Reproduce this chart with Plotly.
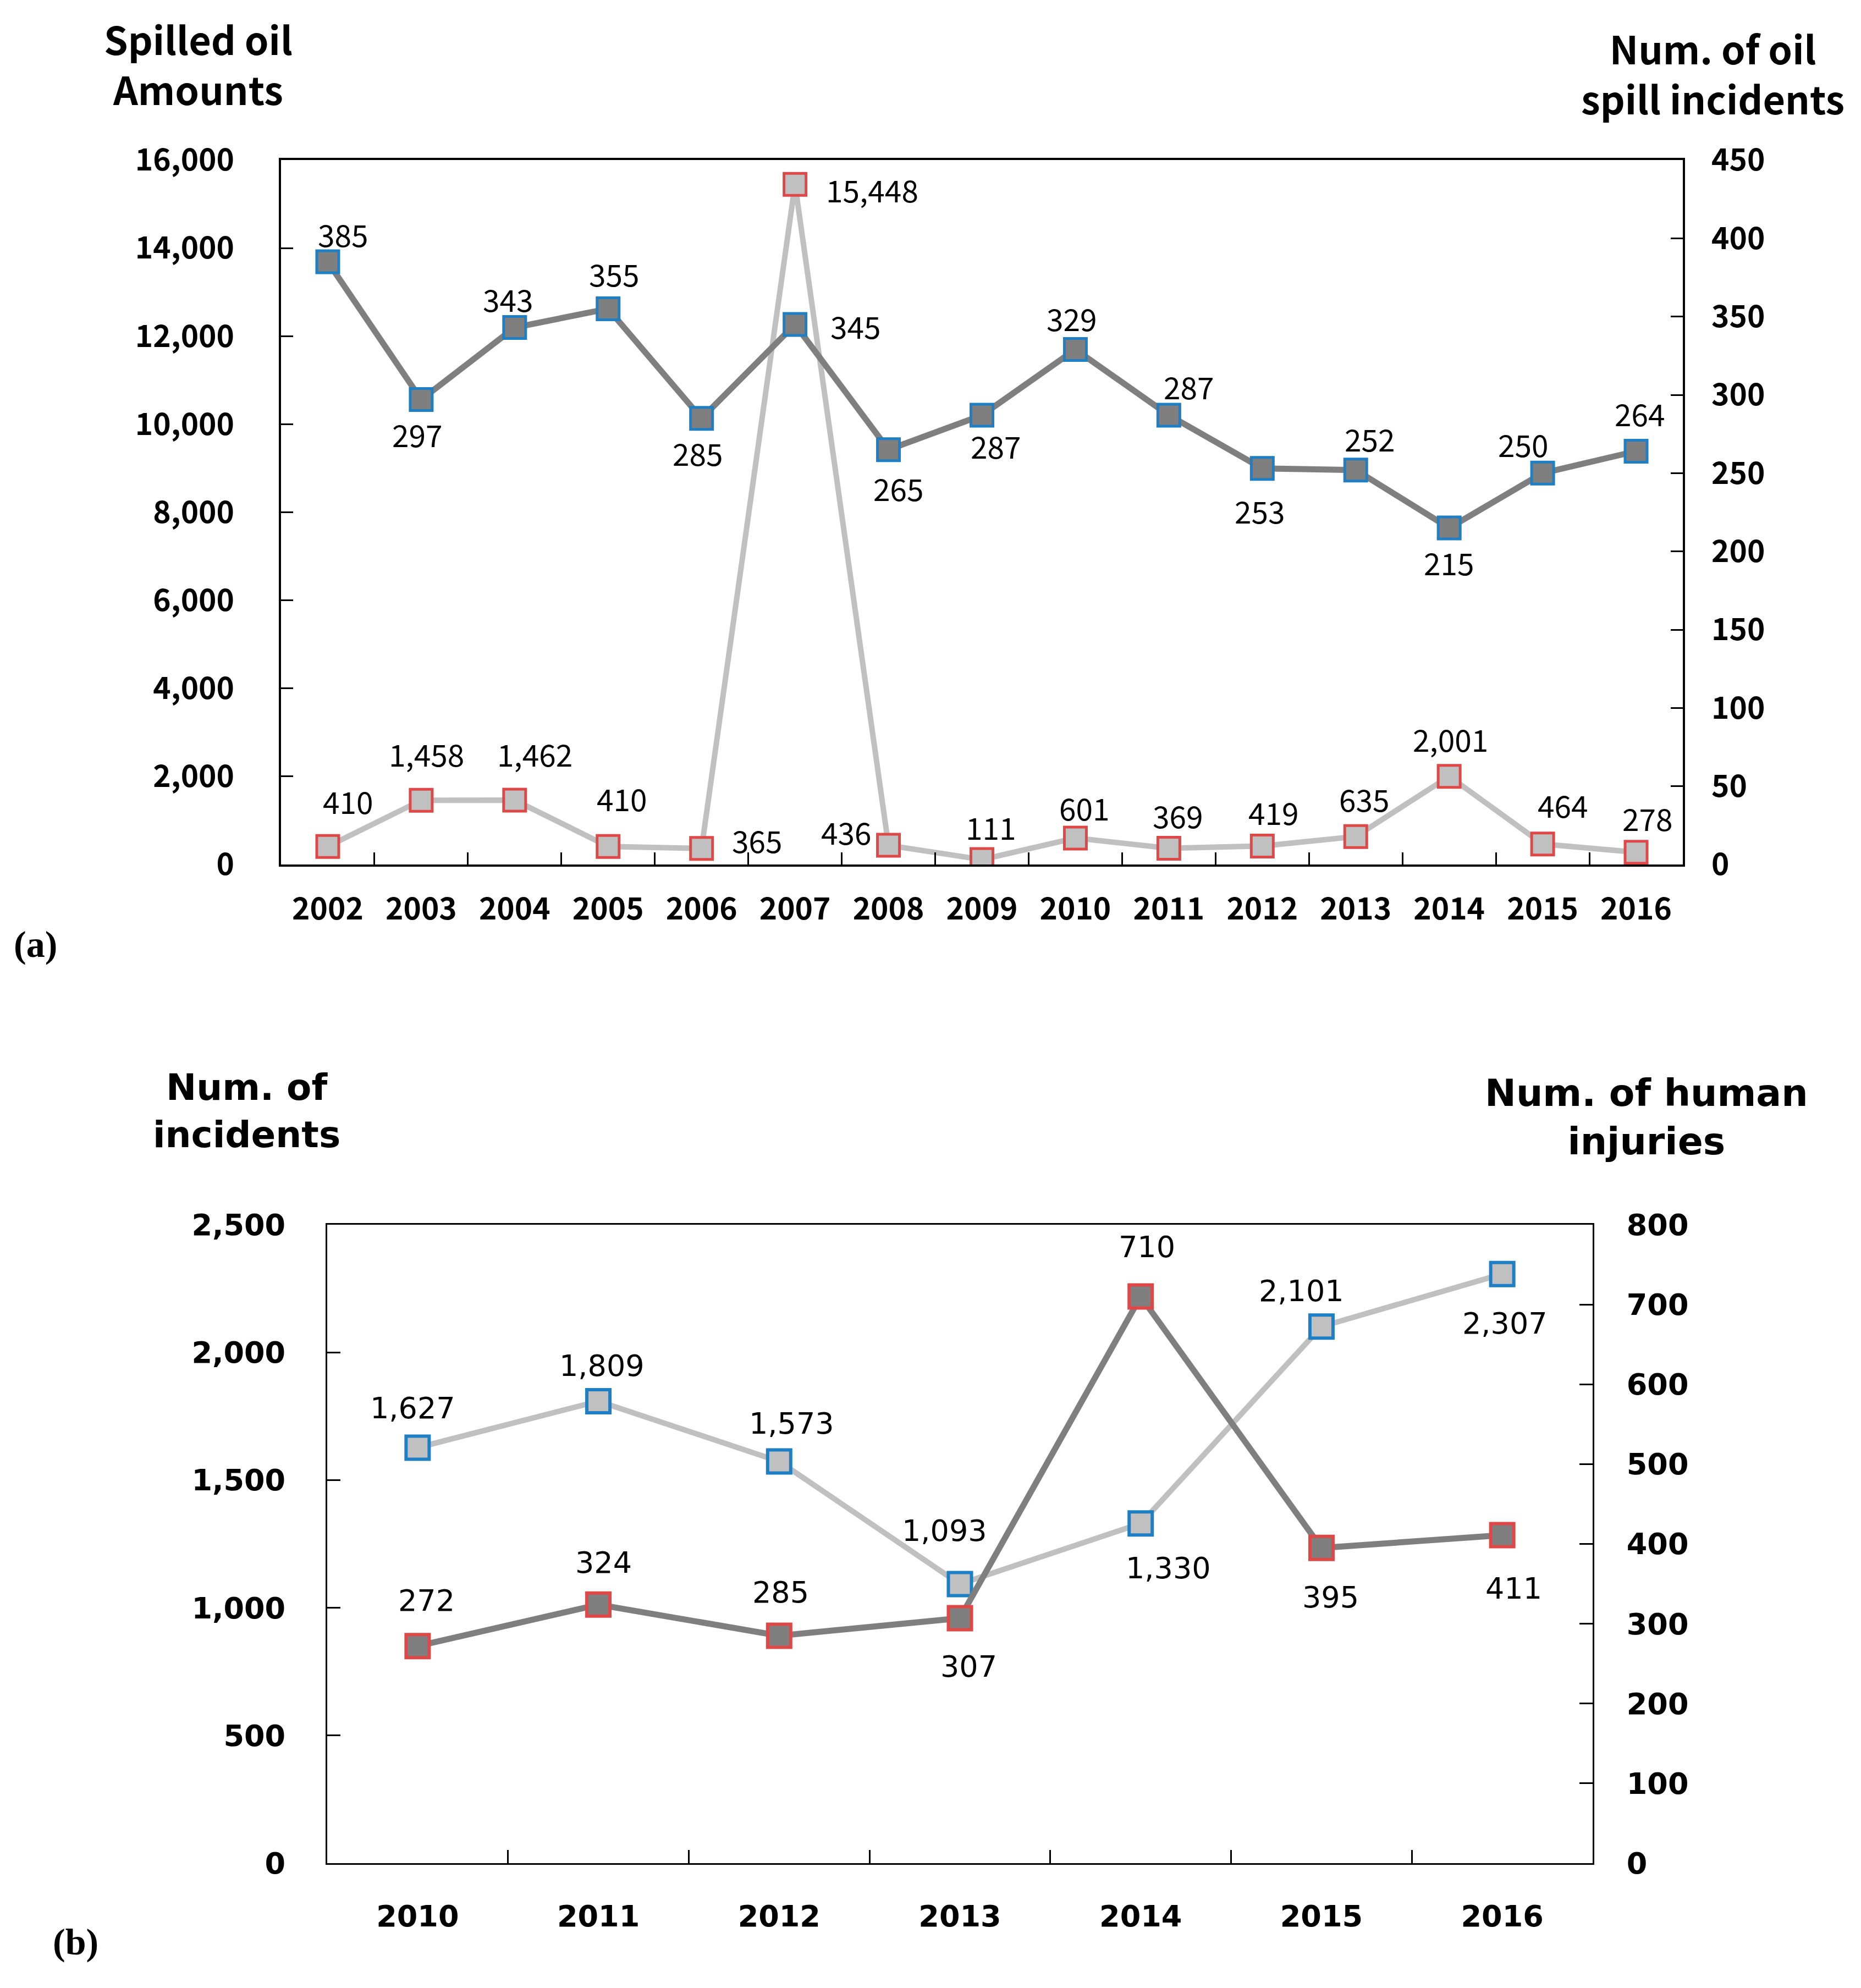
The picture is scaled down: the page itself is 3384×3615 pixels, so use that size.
import plotly.graph_objects as go

W, H = 3384, 3615

# (a) oil spills 2002-2016
years_a = ['2002', '2003', '2004', '2005', '2006', '2007', '2008', '2009',
           '2010', '2011', '2012', '2013', '2014', '2015', '2016']
spilled_oil = [410, 1458, 1462, 410, 365, 15448, 436, 111, 601, 369, 419, 635, 2001, 464, 278]
spill_incidents = [385, 297, 343, 355, 285, 345, 265, 287, 329, 287, 253, 252, 215, 250, 264]

# (b) incidents / injuries 2010-2016
years_b = ['2010', '2011', '2012', '2013', '2014', '2015', '2016']
num_incidents = [1627, 1809, 1573, 1093, 1330, 2101, 2307]
human_injuries = [272, 324, 285, 307, 710, 395, 411]

# label offsets (right / up) relative to each marker, in reference-preview px
S = 2.308
off_oil = [(16, 36), (4, 37), (16, 37), (11, 38), (44, 7), (61, -4), (-33, 11), (7, 26),
           (7, 24), (7, 26), (9, 27), (7, 30), (1, 30), (16, 31), (9, 27)]
off_inc = [(12, 22), (-3, -27), (-5, 23), (5, 28), (-3, -27), (48, -1), (8, -30), (11, -24),
           (-3, 25), (16, 23), (-2, -33), (11, 25), (0, -27), (-15, 23), (3, 30)]
off_binc = [(-4, 31), (3, 28), (10, 30), (-12, 42), (22, -35), (-16, 28), (2, -39)]
off_inj = [(7, 36), (4, 33), (1, 34), (7, -38), (5, 39), (7, -39), (9, -42)]

DARK = '#7f7f7f'
LIGHT = '#c0c0c0'
BLUE = '#1f7fc4'
RED = '#e04848'


def dom_x(a, b):
    return [a / W, b / W]


def dom_y(top, bottom):
    return [1 - bottom / H, 1 - top / H]


fig = go.Figure()

''' (a) '''
fig.add_trace(go.Scatter(
    x=years_a, y=spilled_oil, xaxis='x', yaxis='y',
    mode='lines+markers',
    line=dict(color=LIGHT, width=10),
    marker=dict(symbol='square', size=40, color=LIGHT, line=dict(color=RED, width=5)),
))
fig.add_trace(go.Scatter(
    x=years_a, y=spill_incidents, xaxis='x', yaxis='y2',
    mode='lines+markers',
    line=dict(color=DARK, width=11),
    marker=dict(symbol='square', size=40, color=DARK, line=dict(color=BLUE, width=5)),
))

''' (b) '''
fig.add_trace(go.Scatter(
    x=years_b, y=num_incidents, xaxis='x2', yaxis='y3',
    mode='lines+markers',
    line=dict(color=LIGHT, width=10),
    marker=dict(symbol='square', size=42, color=LIGHT, line=dict(color=BLUE, width=6)),
))
fig.add_trace(go.Scatter(
    x=years_b, y=human_injuries, xaxis='x2', yaxis='y4',
    mode='lines+markers',
    line=dict(color=DARK, width=11),
    marker=dict(symbol='square', size=42, color=DARK, line=dict(color=RED, width=6)),
))

FA = 'Noto Sans CJK KR'
FB = 'DejaVu Sans'
annots = []


def add_labels(ys, offs, xref, yref, family, size):
    # category axes: annotation x is the category index
    for i, (y, (dx, dy)) in enumerate(zip(ys, offs)):
        annots.append(dict(
            x=i, y=y, xref=xref, yref=yref, text=f'{y:,}', showarrow=False,
            xshift=dx * S, yshift=dy * S,
            font=dict(family=family, size=size, color='black'),
        ))


add_labels(spilled_oil, off_oil, 'x', 'y', FA, 55)
add_labels(spill_incidents, off_inc, 'x', 'y2', FA, 55)
add_labels(num_incidents, off_binc, 'x2', 'y3', FB, 54)
add_labels(human_injuries, off_inj, 'x2', 'y4', FB, 54)

titles = [
    ('Spilled oil<br>Amounts', 352, 107, FA, 70),
    ('Num. of oil<br>spill incidents', 3106, 124, FA, 70),
    ('Num. of<br>incidents', 440, 2012, FB, 66),
    ('Num. of human<br>injuries', 2986, 2023, FB, 68),
]
for text, px, py, fam, size in titles:
    annots.append(dict(
        x=px / W, y=1 - py / H, xref='paper', yref='paper', text=text, showarrow=False,
        xanchor='center', yanchor='middle', align='center',
        font=dict(family=fam, size=size, color='black', weight='bold'),
    ))
for text, px, py in [('(a)', 56, 1709), ('(b)', 129, 3523)]:
    annots.append(dict(
        x=px / W, y=1 - py / H, xref='paper', yref='paper', text=text, showarrow=False,
        xanchor='center', yanchor='middle',
        font=dict(family='Liberation Serif', size=68, color='black', weight='bold'),
    ))

axis_common = dict(showgrid=False, zeroline=False, showline=True, linecolor='black',
                   ticks='inside', tickcolor='black', automargin=False)

fig.update_layout(
    width=W, height=H,
    margin=dict(l=0, r=0, t=0, b=0, autoexpand=False),
    paper_bgcolor='white', plot_bgcolor='white',
    showlegend=False,
    annotations=annots,
    xaxis=dict(axis_common, domain=dom_x(503, 3052), anchor='y', type='category',
               range=[-0.5, 14.5], tickson='boundaries', ticklen=22, tickwidth=3,
               linewidth=4, mirror=True, ticklabelstandoff=30,
               tickfont=dict(family=FA, size=55, color='black', weight='bold')),
    yaxis=dict(axis_common, domain=dom_y(283, 1564), anchor='x', range=[0, 16000],
               dtick=2000, tickformat=',', ticklen=22, tickwidth=3, linewidth=4,
               ticklabelstandoff=70,
               tickfont=dict(family=FA, size=55, color='black', weight='bold')),
    yaxis2=dict(axis_common, domain=dom_y(283, 1564), anchor='x', overlaying='y', side='right',
                range=[0, 450], dtick=50, ticklen=22, tickwidth=3, linewidth=4,
                ticklabelstandoff=37,
                tickfont=dict(family=FA, size=55, color='black', weight='bold')),
    xaxis2=dict(axis_common, domain=dom_x(587, 2888), anchor='y3', type='category',
                range=[-0.5, 6.5], tickson='boundaries', ticklen=24, tickwidth=3,
                linewidth=3, mirror=True, ticklabelstandoff=47,
                tickfont=dict(family=FB, size=54, color='black', weight='bold')),
    yaxis3=dict(axis_common, domain=dom_y(2219, 3380), anchor='x2', range=[0, 2500],
                dtick=500, tickformat=',', ticklen=24, tickwidth=3, linewidth=3,
                ticklabelstandoff=62,
                tickfont=dict(family=FB, size=54, color='black', weight='bold')),
    yaxis4=dict(axis_common, domain=dom_y(2219, 3380), anchor='x2', overlaying='y3', side='right',
                range=[0, 800], dtick=100, ticklen=24, tickwidth=3, linewidth=3,
                ticklabelstandoff=48,
                tickfont=dict(family=FB, size=54, color='black', weight='bold')),
)

fig.write_html("out.html")
